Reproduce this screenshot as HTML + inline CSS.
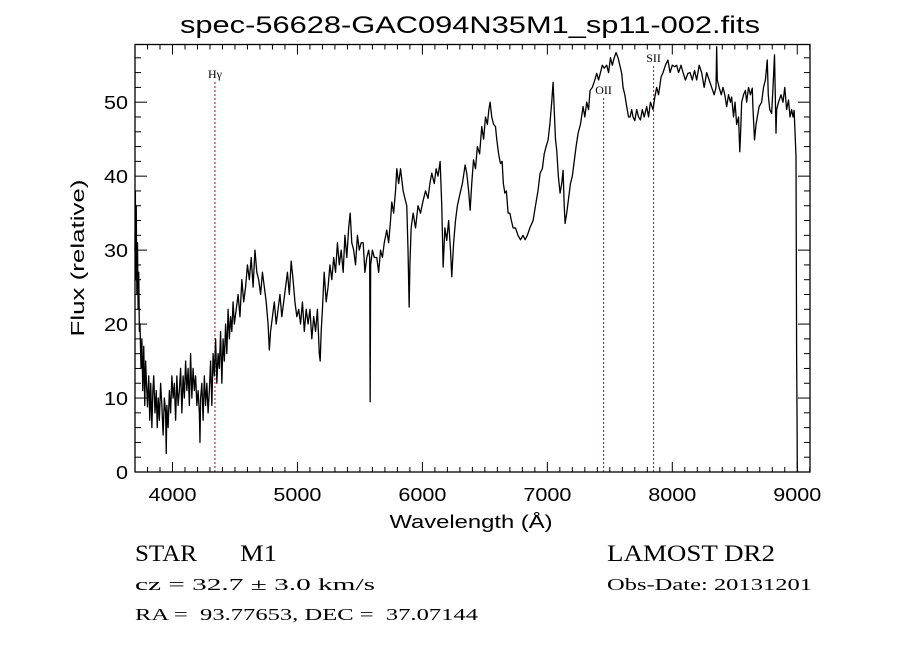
<!DOCTYPE html>
<html><head><meta charset="utf-8"><style>
html,body{margin:0;padding:0;background:#fff;}
svg{display:block;}
</style></head><body>
<svg id="chart" width="900" height="649" viewBox="0 0 900 649" xmlns="http://www.w3.org/2000/svg">
<rect x="0" y="0" width="900" height="649" fill="#fff"/>
<text x="470" y="33" text-anchor="middle" font-family="Liberation Sans, sans-serif" font-size="24" textLength="580" lengthAdjust="spacingAndGlyphs">spec-56628-GAC094N35M1_sp11-002.fits</text>
<g id="axes"></g>
<g id="lines"></g>
<path id="spec" fill="none" stroke="#000" stroke-width="1.3" stroke-linejoin="round"/>
<rect x="135" y="44.5" width="675" height="427.5" fill="none" stroke="#000" stroke-width="1.3"/>
<text transform="translate(84,258) rotate(-90)" text-anchor="middle" font-family="Liberation Sans, sans-serif" font-size="18" textLength="157" lengthAdjust="spacingAndGlyphs">Flux (relative)</text>
<text x="471" y="528" text-anchor="middle" font-family="Liberation Sans, sans-serif" font-size="18" textLength="163" lengthAdjust="spacingAndGlyphs">Wavelength (Å)</text>
<text x="135" y="561" font-family="Liberation Serif, serif" font-size="23" textLength="62" lengthAdjust="spacingAndGlyphs">STAR</text>
<text x="240" y="561" font-family="Liberation Serif, serif" font-size="23" textLength="37" lengthAdjust="spacingAndGlyphs">M1</text>
<text x="135" y="590" font-family="Liberation Serif, serif" font-size="17" textLength="240" lengthAdjust="spacingAndGlyphs">cz = 32.7 ± 3.0 km/s</text>
<text x="135" y="620" font-family="Liberation Serif, serif" font-size="17" textLength="343" lengthAdjust="spacingAndGlyphs" style="white-space:pre">RA =  93.77653, DEC =  37.07144</text>
<text x="607" y="561" font-family="Liberation Serif, serif" font-size="23" textLength="168" lengthAdjust="spacingAndGlyphs">LAMOST DR2</text>
<text x="607" y="590" font-family="Liberation Serif, serif" font-size="17" textLength="205" lengthAdjust="spacingAndGlyphs">Obs-Date: 20131201</text>
</svg>
<script>
const wavelengths = [
3700,3703,3706,3710,3715,3720,3725,3730,3735,3740,
3748,3755,3762,3770,3778,3785,3792,3800,3810,3818,
3826,3835,3843,3850,3860,3870,3878,3886,3895,3905,
3915,3925,3935,3945,3950,3955,3965,3975,3985,3995,
4005,4015,4025,4035,4045,4055,4065,4075,4085,4095,
4105,4115,4125,4135,4145,4155,4165,4175,4185,4195,
4205,4215,4220,4225,4235,4245,4255,4265,4275,4285,
4295,4305,4315,4325,4335,4345,4355,4365,4375,4385,
4395,4405,4415,4425,4435,4445,4455,4465,4475,4485,
4495,4510,4525,4540,4555,4570,4585,4600,4615,4630,
4645,4660,4675,4690,4705,4720,4735,4750,4765,4775,
4785,4800,4815,4830,4845,4860,4875,4890,4905,4920,
4935,4950,4965,4980,4995,5010,5025,5040,5055,5070,
5085,5100,5115,5130,5145,5160,5175,5182,5190,5200,
5214,5230,5245,5260,5275,5290,5305,5320,5335,5350,
5366,5380,5395,5410,5422,5435,5450,5465,5480,5495,
5510,5526,5540,5555,5570,5578,5582,5586,5600,5615,
5635,5650,5665,5680,5695,5715,5730,5745,5755,5770,
5785,5795,5810,5825,5846,5860,5875,5885,5894,5900,
5910,5926,5945,5965,5985,6006,6025,6045,6060,6075,
6095,6110,6125,6142,6155,6166,6180,6195,6210,6225,
6235,6250,6265,6280,6302,6320,6342,6355,6370,6382,
6395,6409,6425,6440,6458,6475,6490,6505,6520,6532,
6542,6555,6570,6585,6595,6610,6625,6638,6648,6660,
6672,6686,6700,6712,6726,6745,6765,6785,6805,6822,
6840,6860,6886,6905,6925,6942,6960,6975,6990,7006,
7020,7035,7046,7055,7065,7075,7088,7102,7115,7126,
7135,7142,7155,7170,7185,7200,7215,7230,7246,7265,
7286,7300,7315,7330,7342,7360,7380,7395,7410,7425,
7440,7455,7475,7490,7505,7520,7535,7550,7566,7580,
7595,7606,7620,7635,7650,7662,7675,7686,7700,7715,
7730,7745,7760,7775,7795,7810,7825,7846,7860,7875,
7890,7910,7926,7945,7965,7982,8000,8020,8035,8050,
8070,8086,8105,8125,8142,8160,8178,8195,8215,8235,
8255,8275,8295,8315,8335,8350,8355,8360,8375,8392,
8406,8420,8435,8450,8465,8475,8490,8502,8515,8530,
8540,8547,8555,8570,8585,8595,8610,8625,8640,8646,
8658,8670,8680,8695,8715,8730,8745,8760,8768,8780,
8795,8806,8818,8830,8835,8850,8870,8886,8900,8915,
8930,8942,8955,8966,8975,8982,8990,8995,8997,8999,
9000,9002];
const fluxValues = [
30,38,26,36,24,31,22,27,19,20,
14,18,11,17,9,15,12,8.8,13,7,
12,6,11,13,8,11,6,10,7,12,
9,5,10,8,2.5,9,6,11,8,13,
10,12,7,13,9,11,14,8,13,10,
15,11,14,9,16,10,14,11,13,9,
11,8,4,10,12,7,13,9,12,8,
11,15,9,16,13,18,12,16,14,19,
12,18,15,20,16,22,18,21,19,23,
20,22,24,21,26,23,25,28,26,29,
25,30,27,26,24,27,25,23,20,16.5,
19,21,23,20,22,24,21,23,25,27,
24,28.5,26,23,21,22,20,23,19,22,
20,22,18,21,19,22,16,15,19,22,
27,23,25,28,26,29,27,31,28,30,
27,32,29,33,35,31,30,28,32,30,
31,31,27,29,30,29,9.5,28,30,29,
29,27,30,29,31,32.7,31,34,36.5,35,
38,41,39,41,38,37,36,30,22.3,28,
33,35,33,36,35,36.7,38,37,39,40.4,
39,41,40,42,36,27.7,33,31.3,34,30,
26.4,31,34,36,37.7,39,41.5,40.4,38,35.4,
39,42.2,41,44,43,46.7,45,48,47,49,
50,48,47,46.7,45,43,41.7,42,39,37.7,
38,35,35,34,33,33,32,31.4,32,31.4,
32,33,34,36,38,40.4,41,43,44,44.9,
47,50,52.7,49,45,43.5,40,37.7,39,40.8,
36,33.6,35,37,39,40,42,44,45.8,47,
49.4,48,50,49,51.6,52,53,53.9,53,54,
55,54.6,55,54,56,55,56,56.7,56,55,
53.9,52,51,49.4,48,48,49,48,47.5,49,
48,47.6,49,48,49.4,48,50,49,50.7,52,
51,53.4,54,55,55.7,54,55,54.8,55,54,
55,54,53,53.9,54,53,54.3,53,55,54,
52,54,53,52,51,52,57.5,53,52,51,
52,51,49.4,51,50,50.7,48,50,47,48,
43.3,46,50,51,51.6,50,52,51,51.9,49,
44.9,47,48,49.4,50,52,53,55.7,51,49,
48.5,52,56.4,45.8,49,50,51,50,52,49,
50.3,48,49,48,48.9,46,42.6,15.6,10.7,5,
1,0];
const tickValuesX = [4000,5000,6000,7000,8000,9000];
const tickLabelsX = ["4000","5000","6000","7000","8000","9000"];
const tickValuesY = [0,10,20,30,40,50];
const tickLabelsY = ["0","10","20","30","40","50"];
const lineNames = ["H\u03b3","OII","SII"];
const lineWaves = [4340,7450,7850];

const X0=135,X1=810,Y0=472,Y1=44.5;
const XMIN=3700,XMAX=9102,YMIN=0,YMAX=57.8;
function sx(v){return X0+(v-XMIN)/(XMAX-XMIN)*(X1-X0);}
function sy(v){return Y0-(v-YMIN)/(YMAX-YMIN)*(Y0-Y1);}
const NS="http://www.w3.org/2000/svg";
const axes=document.getElementById('axes');
function mk(tag,attrs,parent){const e=document.createElementNS(NS,tag);for(const k in attrs)e.setAttribute(k,attrs[k]);parent.appendChild(e);return e;}

for(let w=3700;w<=9100;w+=100){
  const major=(w%1000===0);
  const L=major?10:5;
  const t1=mk('line',{x1:sx(w),x2:sx(w),y1:Y0,y2:Y0-L,stroke:'#000','stroke-width':1},axes);
  
  
  const t2=mk('line',{x1:sx(w),x2:sx(w),y1:Y1,y2:Y1+L,stroke:'#000','stroke-width':1},axes);
  
  
}
for(let v=0;v<=56;v+=2){
  const major=(v%10===0);
  const L=major?12:6;
  const t1=mk('line',{x1:X0,x2:X0+L,y1:sy(v),y2:sy(v),stroke:'#000','stroke-width':1},axes);
  
  
  const t2=mk('line',{x1:X1,x2:X1-L,y1:sy(v),y2:sy(v),stroke:'#000','stroke-width':1},axes);
  
  
}
tickValuesX.forEach((v,i)=>{
  const t=mk('text',{x:sx(v),y:501,'text-anchor':'middle','font-family':'Liberation Sans, sans-serif','font-size':18,textLength:48,lengthAdjust:'spacingAndGlyphs'},axes);
  t.textContent=tickLabelsX[i];
  
  
});
tickValuesY.forEach((v,i)=>{
  const t=mk('text',{x:128,y:sy(v)+7,'text-anchor':'end','font-family':'Liberation Sans, sans-serif','font-size':18,textLength:tickLabelsY[i].length*12,lengthAdjust:'spacingAndGlyphs'},axes);
  t.textContent=tickLabelsY[i];
  
  
});
const lg=document.getElementById('lines');
const labelY=[78,94,62];
lineWaves.forEach((w,i)=>{
  const l=mk('line',{x1:sx(w),x2:sx(w),y1:Y0,y2:(i===0?82:(i===1?97:65)),stroke:'#a02828','stroke-width':1.1,'stroke-dasharray':'2,2'},lg);
  
  
  const t=mk('text',{x:sx(w),y:labelY[i],'text-anchor':'middle','font-family':'Liberation Serif, serif','font-size':12},lg);
  t.textContent=lineNames[i];
  
  
});
let d='';
const n=Math.min(wavelengths.length,fluxValues.length);
for(let i=0;i<n;i++){d+=(i?'L':'M')+sx(wavelengths[i]).toFixed(2)+','+sy(fluxValues[i]).toFixed(2);}
document.getElementById('spec').setAttribute('d',d);
</script>
</body></html>
